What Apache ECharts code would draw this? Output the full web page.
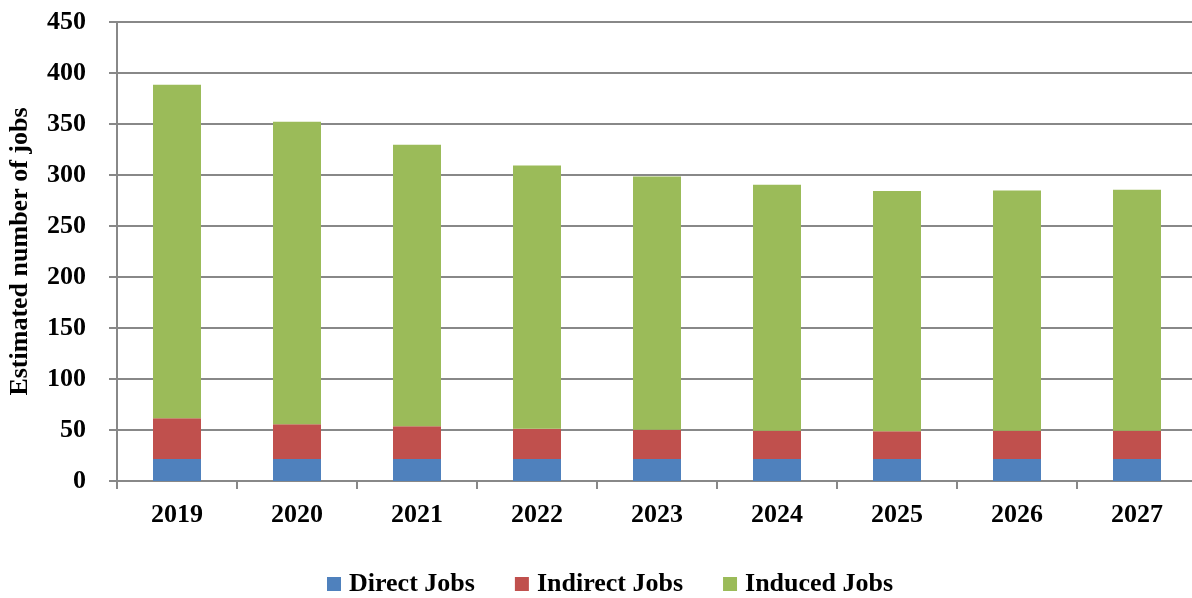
<!DOCTYPE html>
<html>
<head>
<meta charset="utf-8">
<script src="https://cdn.jsdelivr.net/npm/echarts@6/dist/echarts.min.js"></script>
<style>
  html, body { margin: 0; padding: 0; background: #ffffff; }
  #chart { width: 1192px; height: 598px; }
</style>
</head>
<body>
<div id="chart"></div>
<script>
// Estimated jobs per year, stacked by type
const years = ['2019', '2020', '2021', '2022', '2023', '2024', '2025', '2026', '2027'];
const directJobs   = [21.5, 21.5, 21.5, 21.5, 21.5, 21.5, 21.5, 21.5, 21.5];
const indirectJobs = [40.0, 34.1, 32.1, 29.8, 28.8, 27.8, 27.2, 27.8, 27.8];
const inducedJobs  = [327.1, 296.7, 276.1, 257.9, 248.3, 241.2, 235.6, 235.6, 236.3];

const fontFamily = '"Liberation Serif", "DejaVu Serif", serif';
const gridGray = '#888888';
const textStyleBold = { fontFamily: fontFamily, fontWeight: 'bold', fontSize: 26, color: '#000' };

const chart = echarts.init(document.getElementById('chart'), null, { renderer: 'canvas' });

function barSeries(name, data, color) {
  return {
    name: name,
    type: 'bar',
    stack: 'jobs',
    data: data,
    barWidth: '40%',
    itemStyle: { color: color },
    emphasis: { disabled: true }
  };
}

chart.setOption({
  animation: false,
  textStyle: { fontFamily: fontFamily },
  grid: { left: 117, right: -5, top: 22, bottom: 117, containLabel: false, outerBoundsMode: 'none' },
  legend: {
    top: 566,
    left: 322,
    itemWidth: 14,
    itemHeight: 14,
    itemGap: 40,
    icon: 'rect',
    textStyle: Object.assign({ padding: [0, 0, 0, 3] }, textStyleBold),
    data: ['Direct Jobs', 'Indirect Jobs', 'Induced Jobs']
  },
  xAxis: {
    type: 'category',
    data: years,
    axisLine: { lineStyle: { color: gridGray, width: 2 } },
    axisTick: { show: true, length: 8, lineStyle: { color: gridGray, width: 2 } },
    axisLabel: Object.assign({ margin: 21 }, textStyleBold)
  },
  yAxis: {
    type: 'value',
    min: 0,
    max: 450,
    interval: 50,
    name: 'Estimated number of jobs',
    nameLocation: 'middle',
    nameGap: 84,
    nameTextStyle: textStyleBold,
    axisLine: { show: true, lineStyle: { color: gridGray, width: 2 } },
    axisTick: { show: true, length: 8, lineStyle: { color: gridGray, width: 2 } },
    axisLabel: Object.assign({ margin: 31 }, textStyleBold),
    splitLine: { show: true, lineStyle: { color: gridGray, width: 2 } }
  },
  series: [
    barSeries('Direct Jobs', directJobs, '#4F81BD'),
    barSeries('Indirect Jobs', indirectJobs, '#C0504D'),
    barSeries('Induced Jobs', inducedJobs, '#9BBB59')
  ]
});
</script>
</body>
</html>
